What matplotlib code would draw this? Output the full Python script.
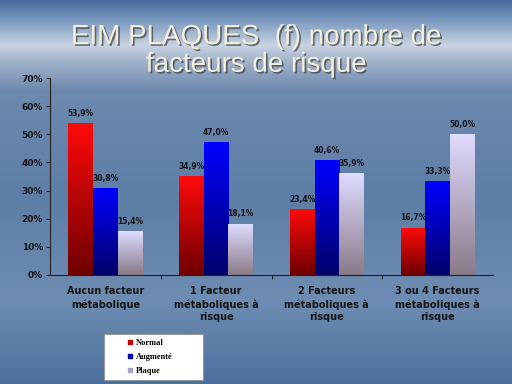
import numpy as np
import matplotlib
matplotlib.use("Agg")
import matplotlib.pyplot as plt
import matplotlib.patheffects as pe
from matplotlib.colors import LinearSegmentedColormap, to_rgb
from matplotlib.lines import Line2D
from matplotlib.patches import Rectangle

categories = ["Aucun facteur\nmétabolique",
              "1 Facteur\nmétaboliques à\nrisque",
              "2 Facteurs\nmétaboliques à\nrisque",
              "3 ou 4 Facteurs\nmétaboliques à\nrisque"]
normal = [53.9, 34.9, 23.4, 16.7]
augmente = [30.8, 47.0, 40.6, 33.3]
plaque = [15.4, 18.1, 35.9, 50.0]
series_names = ["Normal", "Augmenté", "Plaque"]
y_ticks = [0, 10, 20, 30, 40, 50, 60, 70]

# degradés des barres (bas -> haut) et couleur de legende
grad_colors = [("#6e0000", "#ff0a0a"), ("#00006a", "#0000ff"), ("#8a7a88", "#dedcff")]
legend_colors = ["#d00000", "#0000b0", "#a8a2c8"]

fig = plt.figure(figsize=(5.12, 3.84), dpi=100)

# fond "ciel"
bg = fig.add_axes([0, 0, 1, 1], zorder=-10)
stops_y = [0, 20, 45, 60, 90, 200, 300, 384]
stops_c = ["#48699b", "#7b99bf", "#c9d4e2", "#a3b4cb", "#6d89ae", "#5e7ea6", "#6f8db2", "#4d6f9d"]
yy = np.arange(384)
rgb = np.array([to_rgb(c) for c in stops_c])
img = np.stack([np.interp(yy, stops_y, rgb[:, k]) for k in range(3)], axis=-1)
img = np.repeat(img[:, None, :], 8, axis=1)
bg.imshow(img, aspect="auto", extent=[0, 1, 0, 1])
bg.axis("off")

ax = fig.add_axes([50 / 512, 1 - 275 / 384, 443 / 512, 197 / 384])
ax.patch.set_alpha(0)

x = np.arange(len(categories))
width = 0.222
grad = np.linspace(1, 0, 256).reshape(-1, 1)
for i, (vals, (c0, c1)) in enumerate(zip([normal, augmente, plaque], grad_colors)):
    cmap = LinearSegmentedColormap.from_list("g%d" % i, [c0, c1])
    bars = ax.bar(x + (i - 1) * width, vals, width, color="none", edgecolor="none")
    for b, v in zip(bars, vals):
        x0, w, h = b.get_x(), b.get_width(), b.get_height()
        ax.imshow(grad, cmap=cmap, extent=[x0, x0 + w, 0, h], aspect="auto",
                  vmin=0, vmax=1, zorder=2)
        ax.text(x0 + w / 2, h + 2.0, ("%.1f%%" % v).replace(".", ","),
                ha="center", va="bottom", fontsize=5.5, fontweight="bold", color="#151515")

ax.set_xlim(-0.5, 3.5)
ax.set_ylim(0, 70)
ax.set_yticks(y_ticks)
ax.set_yticklabels(["%d%%" % t for t in y_ticks])
ax.set_xticks(x[:-1] + 0.5)
ax.set_xticklabels([])
ax.set_xticks(x, minor=True)
ax.set_xticklabels(categories, minor=True, fontsize=7, fontweight="bold",
                   color="#151515", linespacing=1.35)
ax.tick_params(axis="x", which="minor", length=0, pad=8)
ax.tick_params(axis="x", which="major", length=3, color="#222222")
ax.tick_params(axis="y", length=3, color="#222222", labelsize=6.5, pad=2)
for lab in ax.get_yticklabels():
    lab.set_fontweight("bold")
    lab.set_color("#151515")
for s in ["top", "right"]:
    ax.spines[s].set_visible(False)
for s in ["left", "bottom"]:
    ax.spines[s].set_color("#222222")
    ax.spines[s].set_linewidth(0.8)

fig.text(0.5, 1 - 51 / 384,
         "EIM PLAQUES  (f) nombre de\nfacteurs de risque",
         ha="center", va="center", fontsize=20, family="Liberation Sans",
         color="#f3efdc", linespacing=1.08,
         path_effects=[pe.withSimplePatchShadow(offset=(1.2, -1.2),
                                                shadow_rgbFace="#2a2a2a", alpha=0.6)])

# legende
fig.patches.append(Rectangle((104 / 512, 4 / 384), 99 / 512, 46 / 384,
                             transform=fig.transFigure, facecolor="white",
                             edgecolor="#909090", linewidth=0.6, zorder=5))
handles = [Line2D([], [], marker="s", linestyle="none", markersize=3.5,
                  markerfacecolor=c, markeredgecolor=c) for c in legend_colors]
fig.legend(handles, series_names, loc="center left",
           bbox_to_anchor=(122 / 512, 27 / 384), frameon=False,
           prop={"family": "Liberation Serif", "weight": "bold", "size": 6},
           handlelength=0.8, handletextpad=0.4, labelspacing=0.75, borderpad=0)

fig.savefig("out.png", dpi=100)
